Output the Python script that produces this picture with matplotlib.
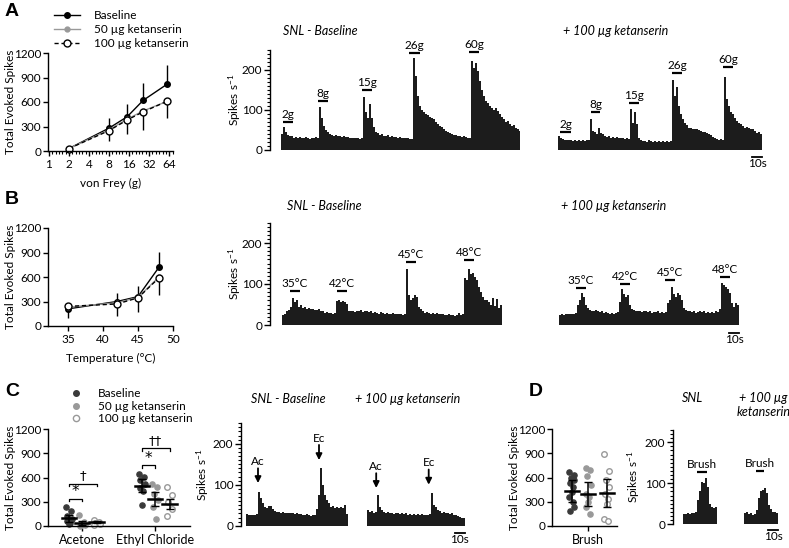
import numpy as np
import matplotlib
matplotlib.use('Agg')
import matplotlib.pyplot as plt
from matplotlib.ticker import FixedLocator, MultipleLocator, NullFormatter
from matplotlib.lines import Line2D

plt.rcParams['font.family'] = ['Lato', 'DejaVu Sans']
plt.rcParams['font.size'] = 8
plt.rcParams['mathtext.fontset'] = 'custom'
plt.rcParams['mathtext.rm'] = 'Lato'
plt.rcParams['mathtext.it'] = 'Lato:italic'
plt.rcParams['axes.linewidth'] = 1.0
plt.rcParams['xtick.major.width'] = 1.0
plt.rcParams['ytick.major.width'] = 1.0
plt.rcParams['xtick.major.size'] = 3.5
plt.rcParams['ytick.major.size'] = 3.5
plt.rcParams['xtick.major.pad'] = 2
plt.rcParams['ytick.major.pad'] = 1.5

# ---------------- data ----------------
# A: von Frey
vf_force = [2, 8, 15, 26, 60]
vf_base = [30, 280, 420, 620, 820]
vf_base_up = [0, 120, 150, 210, 230]
vf_50 = [30, 260, 390, 490, 610]
vf_100 = [30, 250, 380, 480, 610]
vf_100_dn = [0, 130, 170, 225, 205]

# B: heat
temp = [35, 42, 45, 48]
heat_base = [210, 300, 360, 720]
heat_base_up = [0, 100, 130, 190]
heat_base_dn = [110, 0, 0, 0]
heat_50 = [230, 285, 350, 600]
heat_100 = [240, 270, 345, 590]
heat_100_dn = [0, 150, 175, 210]

# C: cold (acetone / ethyl chloride), individual cells
ac_base = [230, 190, 120, 90, 60, 40, 20]
ac_50 = [130, 50, 30, 10, 5]
ac_100 = [70, 55, 40, 25, 15]
ec_base = [640, 610, 570, 520, 470, 430, 260]
ec_50 = [520, 480, 400, 320, 240, 90]
ec_100 = [480, 380, 300, 210, 120]
ac_mean = [95, 35, 50]
ac_sem = [45, 25, 15]
ec_mean = [500, 330, 270]
ec_sem = [85, 85, 60]

# D: brush
br_base = [662, 629, 600, 567, 526, 484, 422, 360, 298, 236, 186]
br_50 = [720, 691, 617, 505, 402, 360, 298, 236, 145]
br_100 = [890, 679, 567, 484, 402, 340, 269, 91, 58]
br_mean = [435, 395, 405]
br_err = [135, 150, 175]

# example traces, spikes/s in 2 s bins
BIN = 2
tr_vf_snl = [40, 57, 46, 38, 35, 34, 31, 33, 30, 32, 31, 29, 32, 30, 28, 31, 29, 33, 30,
             108, 80, 60, 50, 44, 40, 38, 36, 37, 34, 35, 33, 34, 32, 33, 31, 30, 31, 29, 30, 28, 30,
             133, 95, 80, 116, 80, 58, 45, 42, 38, 40, 36, 35, 37, 33, 34, 32, 33, 31, 33, 30, 31, 29, 30, 28, 27,
             229, 185, 135, 110, 100, 94, 90, 88, 82, 80, 77, 70, 64, 60, 58, 52, 48, 45, 43, 40, 38, 37, 36, 35, 33, 34, 32, 31, 30,
             222, 205, 218, 197, 172, 150, 135, 122, 118, 110, 106, 100, 104, 97, 90, 82, 77, 70, 72, 64, 60, 62, 56, 52, 47]
tr_vf_ket = [35, 30, 27, 25, 26, 24, 25, 23, 25, 22, 24, 23, 25, 22, 24, 25,
             78, 47, 45, 40, 56, 42, 39, 35, 33, 36, 31, 33, 30, 32, 29, 31, 30, 28, 31, 27,
             102, 68, 95, 64, 30, 24, 22, 23, 21, 24, 22, 20, 23, 21, 22, 20, 23, 21, 22, 20, 22,
             174, 135, 158, 110, 89, 78, 68, 62, 56, 55, 52, 53, 52, 50, 47, 46, 44, 42, 39, 37, 32, 29, 27, 26, 27, 25,
             183, 127, 110, 95, 89, 80, 72, 68, 64, 60, 56, 58, 55, 52, 53, 48, 43, 44, 39]
tr_heat_snl = [24, 28, 33, 37, 45, 65, 55, 60, 45, 50, 42, 44, 40, 42, 39, 40, 37, 36, 38, 34, 33, 30, 31, 29, 30, 28, 29,
               58, 60, 57, 59, 56, 52, 35, 33, 35, 32, 34, 33, 36, 32, 34, 33, 31, 34, 30, 32, 30, 28, 31, 29, 28, 30, 28, 27, 29, 27, 28, 26, 27, 25,
               26, 136, 73, 61, 65, 73, 68, 45, 38, 33, 30, 32, 29, 28, 30, 27, 29, 28, 26, 27, 25, 24, 26, 25, 24, 23, 24, 30, 25,
               26, 114, 110, 136, 125, 126, 118, 110, 93, 80, 69, 62, 61, 55, 49, 65, 47, 63, 41, 50]
tr_heat_ket = [24, 26, 25, 27, 26, 28, 27, 26, 29, 50, 60, 77, 69, 49, 42, 37, 35, 34, 36, 33, 31, 33, 30, 32, 29, 28, 30, 28, 30, 32,
               55, 87, 75, 69, 72, 50, 40, 37, 35, 33, 34, 32, 35, 33, 31, 34, 30, 32, 31, 33, 30, 31, 29, 32,
               53, 60, 92, 75, 69, 77, 72, 60, 41, 36, 33, 34, 31, 33, 30, 32, 33, 31, 34, 30, 32, 30, 31,
               30, 33, 32, 40, 102, 98, 93, 89, 77, 53, 45, 53, 50]
tr_cold_snl = [28, 26, 27, 25, 26, 28,
               83, 68, 55, 45, 43, 47, 48, 40, 36, 33, 34, 32, 33, 31, 30, 32, 30, 31, 29, 30, 28, 29, 27, 26, 28, 25, 24, 26, 25, 40,
               75, 141, 100, 75, 63, 55, 46, 47, 44, 46, 43, 45, 42, 50, 28]
tr_cold_ket = [38, 33, 36, 31, 34, 75, 46, 38, 34, 31, 33, 30, 32, 29, 31, 30, 28, 31, 29, 30, 27, 29, 26, 28, 27, 29, 26, 28, 25, 27, 26, 28,
               80, 50, 45, 38, 35, 32, 33, 30, 31, 29, 30, 27, 25, 24, 22, 20, 18]
tr_brush_snl = [24, 25, 27, 26, 28, 27, 31, 59, 80, 104, 100, 112, 90, 50, 43, 39, 41]
tr_brush_ket = [27, 31, 25, 28, 23, 26, 35, 63, 80, 84, 88, 76, 47, 38, 31, 29, 27]

# stimulus bars: label, start (s), end (s), height (spikes/s)
st_vf_snl = [('2g', 2, 12, 70), ('8g', 37, 47, 122), ('15g', 81, 91, 150), ('26g', 128, 139, 242), ('60g', 188, 198, 245)]
st_vf_ket = [('2g', 2, 13, 45), ('8g', 33, 42, 94), ('15g', 71, 81, 117), ('26g', 114, 124, 192), ('60g', 165, 175, 207)]
st_heat_snl = [('35°C', 8, 18, 83), ('42°C', 55, 65, 83), ('45°C', 124, 134, 154), ('48°C', 182, 192, 158)]
st_heat_ket = [('35°C', 17, 27, 90), ('42°C', 61, 71, 100), ('45°C', 106, 116, 110), ('48°C', 161, 171, 117)]
st_brush_snl = [('Brush', 14, 24, 128)]
st_brush_ket = [('Brush', 12, 20, 131)]
# arrows for cold: label, time, tip, tail
ar_cold_snl = [('Ac', 12, 104, 140), ('Ec', 73, 160, 197)]
ar_cold_ket = [('Ac', 9.5, 92, 128), ('Ec', 62, 100, 137)]

# ---------------- figure ----------------
W, H = 789, 548
TRACE_C = '#1c1c1c'
GREY = '#999999'
DARK = '#3a3a3a'

fig = plt.figure(figsize=(W / 100, H / 100), dpi=100)


def add_ax(l, t, r, b):
    ax = fig.add_axes([l / W, 1 - b / H, (r - l) / W, (b - t) / H])
    ax._px = (l, r)
    return ax


def label_x(ax, x_px):
    # x_px = centre of the rotated label; anchor sits on its right edge
    l, r = ax._px
    ax.yaxis.set_label_coords((x_px + 6 - l) / (r - l), 0.5)


def trace_ax(l, r, start, base, vals, top=250, scale=0.4, yaxis=False, lab_x=None):
    ax = add_ax(l, base - scale * top, r, base)
    ax.set_xlim(l - start, r - start)
    ax.set_ylim(0, top)
    for s in ['top', 'right', 'bottom']:
        ax.spines[s].set_visible(False)
    ax.set_xticks([])
    ax.patch.set_visible(False)
    if yaxis:
        ax.yaxis.set_major_locator(FixedLocator([0, 100, 200]))
        ax.yaxis.set_minor_locator(MultipleLocator(10))
        ax.tick_params(axis='y', which='major', length=4, width=1, labelsize=8.5)
        ax.tick_params(axis='y', which='minor', length=2.5, width=0.8)
        ax.set_ylabel('Spikes s$^{-1}$', fontsize=8.5)
        label_x(ax, lab_x)
    else:
        ax.spines['left'].set_visible(False)
        ax.set_yticks([])
    edges = np.arange(len(vals) + 1) * BIN
    ax.stairs(vals, edges, fill=True, color=TRACE_C, linewidth=0)
    return ax


def stims(ax, items):
    for lab, t0, t1, y in items:
        ax.plot([t0, t1], [y, y], color='k', lw=1.6, solid_capstyle='butt', clip_on=False)
        ax.text((t0 + t1) / 2, y + 5, lab, ha='center', va='bottom', fontsize=8.5, clip_on=False)


def arrows(ax, items):
    for lab, t, tip, tail in items:
        ax.annotate('', xy=(t, tip), xytext=(t, tail),
                    arrowprops=dict(arrowstyle='-|>', color='k', lw=1.3, mutation_scale=9,
                                    shrinkA=0, shrinkB=0), annotation_clip=False)
        ax.text(t, tail + 3, lab, ha='center', va='bottom', fontsize=8.5)


def scalebar(ax, t_end, y):
    ax.plot([t_end - 10, t_end], [y, y], color='k', lw=1.3, clip_on=False)
    ax.text(t_end - 5, y - 3, '10s', ha='center', va='top', fontsize=8.5)


def title(ax, t, y, s, ha='left'):
    ax.text(t, y, s, ha=ha, va='center', fontsize=9, style='italic', clip_on=False)


def panel_letter(x, y, s):
    fig.text(x / W, 1 - y / H, s, fontsize=14, fontweight='bold', family='Liberation Sans',
             ha='left', va='center')


def count_axis(ax, lab_x):
    for s in ['top', 'right']:
        ax.spines[s].set_visible(False)
    ax.patch.set_visible(False)
    ax.set_ylim(0, 1200)
    ax.set_yticks([0, 300, 600, 900, 1200])
    ax.tick_params(labelsize=8.5)
    ax.set_ylabel('Total Evoked Spikes', fontsize=8.5)
    label_x(ax, lab_x)


# ---- Panel A ----
panel_letter(5, 12, 'A')
axA = add_ax(48, 53, 173, 151)
count_axis(axA, 10)
axA.set_xscale('log', base=2)
axA.set_xlim(0.97, 73)
axA.set_xticks([1, 2, 4, 8, 16, 32, 64])
axA.set_xticklabels(['1', '2', '4', '8', '16', '32', '64'])
axA.xaxis.set_minor_locator(FixedLocator(2 ** np.arange(0, 6.2, 1 / 6)))
axA.xaxis.set_minor_formatter(NullFormatter())
axA.tick_params(axis='x', which='minor', length=2, width=0.8)
axA.set_xlabel('von Frey (g)', fontsize=8.5, labelpad=6)
axA.errorbar(vf_force, vf_base, yerr=[np.zeros(5), vf_base_up], fmt='none', ecolor='k', lw=1, capsize=0, clip_on=False)
axA.errorbar(vf_force, vf_100, yerr=[vf_100_dn, np.zeros(5)], fmt='none', ecolor='k', lw=1, capsize=0, clip_on=False)
lb, = axA.plot(vf_force, vf_base, '-o', color='k', lw=1, ms=4, clip_on=False, label='Baseline')
l5, = axA.plot(vf_force, vf_50, '-o', color=GREY, lw=1, ms=3.5, clip_on=False, label='50 µg ketanserin')
l1, = axA.plot(vf_force, vf_100, '--o', color='k', lw=1, ms=5, mfc='white', mec='k', mew=1,
               dashes=(3, 2), clip_on=False, label='100 µg ketanserin')
axA.legend(handles=[lb, l5, l1], loc='upper left', bbox_to_anchor=(48 / W, 1 - 4 / H),
           bbox_transform=fig.transFigure, frameon=False, fontsize=8.5, handlelength=2.2,
           handletextpad=1.2, labelspacing=0.25, borderpad=0)

tA1 = trace_ax(270, 520, 281, 150, tr_vf_snl, yaxis=True, lab_x=237)
stims(tA1, st_vf_snl)
title(tA1, 2, 297, 'SNL - Baseline')
tA2 = trace_ax(558, 762, 558, 150, tr_vf_ket)
stims(tA2, st_vf_ket)
title(tA2, 5, 297, '+ 100 µg ketanserin')
scalebar(tA2, 204, -17)

# ---- Panel B ----
panel_letter(5, 200, 'B')
axB = add_ax(48, 228, 173, 326)
count_axis(axB, 10)
axB.set_xlim(32.14, 50)
axB.set_xticks([35, 40, 45, 50])
axB.set_xlabel('Temperature (°C)', fontsize=8.5, labelpad=6)
axB.errorbar(temp, heat_base, yerr=[heat_base_dn, heat_base_up], fmt='none', ecolor='k', lw=1, capsize=0)
axB.errorbar(temp, heat_100, yerr=[heat_100_dn, np.zeros(4)], fmt='none', ecolor='k', lw=1, capsize=0)
axB.plot(temp, heat_base, '-o', color='k', lw=1, ms=4, clip_on=False)
axB.plot(temp, heat_50, '-o', color=GREY, lw=1, ms=3.5, clip_on=False)
axB.plot(temp, heat_100, '--o', color='k', lw=1, ms=5, mfc='white', mec='k', mew=1, dashes=(3, 2), clip_on=False)

tB1 = trace_ax(270, 502, 282, 325, tr_heat_snl, scale=0.41, yaxis=True, lab_x=237)
stims(tB1, st_heat_snl)
title(tB1, 5, 290, 'SNL - Baseline')
tB2 = trace_ax(559, 740, 559, 325, tr_heat_ket, scale=0.41)
stims(tB2, st_heat_ket)
title(tB2, 2, 290, '+ 100 µg ketanserin')
scalebar(tB2, 180, -19)

# ---- Panel C ----
panel_letter(5, 392, 'C')
axC = add_ax(48, 429, 190, 526)
count_axis(axC, 10)
axC.set_xlim(0.534, 2.48)
axC.set_xticks([1, 2])
axC.set_xticklabels(['Acetone', 'Ethyl Chloride'], fontsize=9)
off = [-0.18, 0.0, 0.2]
jit = [-0.04, 0.03, -0.02, 0.04, -0.03, 0.02, 0.0]
groups = [(1, [ac_base, ac_50, ac_100], ac_mean, ac_sem), (2, [ec_base, ec_50, ec_100], ec_mean, ec_sem)]
for cx, sets, means, sems in groups:
    for k, vals in enumerate(sets):
        xs = [cx + off[k] + jit[i % len(jit)] for i in range(len(vals))]
        if k == 0:
            axC.scatter(xs, vals, s=14, color=DARK, zorder=2, clip_on=False)
        elif k == 1:
            axC.scatter(xs, vals, s=14, color=GREY, zorder=2, clip_on=False)
        else:
            axC.scatter(xs, vals, s=16, facecolor='white', edgecolor=GREY, lw=1, zorder=2, clip_on=False)
        x0 = cx + off[k]
        axC.plot([x0 - 0.1, x0 + 0.1], [means[k]] * 2, color='k', lw=1.8, zorder=3)
        axC.errorbar([x0], [means[k]], yerr=[sems[k]], fmt='none', ecolor='k', lw=1.1, capsize=3, zorder=3)


def bracket(ax, x0, x1, y, s, tick=35):
    ax.plot([x0, x0, x1, x1], [y - tick, y, y, y - tick], color='k', lw=0.9)
    if s == '*':
        ax.text((x0 + x1) / 2, y - 10, s, ha='center', va='bottom', fontsize=11, family='DejaVu Sans')
    else:
        ax.text((x0 + x1) / 2, y + 15, s, ha='center', va='bottom', fontsize=9.5, family='DejaVu Sans')


bracket(axC, 1 + off[0], 1 + off[1], 340, '*')
bracket(axC, 1 + off[0], 1 + off[2], 525, '†')
bracket(axC, 2 + off[0], 2 + off[1], 752, '*')
bracket(axC, 2 + off[0], 2 + off[2], 960, '††')

hC = [Line2D([], [], ls='none', marker='o', ms=4, color=DARK),
      Line2D([], [], ls='none', marker='o', ms=4, color=GREY),
      Line2D([], [], ls='none', marker='o', ms=4.5, mfc='white', mec=GREY)]
axC.legend(hC, ['Baseline', '50 µg ketanserin', '100 µg ketanserin'], loc='upper left',
           bbox_to_anchor=(64 / W, 1 - 382 / H), bbox_transform=fig.transFigure, frameon=False,
           fontsize=8.5, handlelength=1.0, handletextpad=1.4, labelspacing=0.15, borderpad=0)

tC1 = trace_ax(241, 348, 246, 525.7, tr_cold_snl, scale=0.41, yaxis=True, lab_x=205)
arrows(tC1, ar_cold_snl)
title(tC1, 5, 310, 'SNL - Baseline')
tC2 = trace_ax(366.7, 465, 366.7, 525.7, tr_cold_ket, scale=0.41)
arrows(tC2, ar_cold_ket)
title(tC2, -12, 310, '+ 100 µg ketanserin')
scalebar(tC2, 98, -18)

# ---- Panel D ----
panel_letter(529, 392, 'D')
axD = add_ax(552, 429, 617, 526)
count_axis(axD, 514)
axD.set_xlim(-0.72, 0.58)
axD.set_xticks([0])
axD.set_xticklabels(['Brush'], fontsize=9)
offD = [-0.33, 0.0, 0.37]
jitD = [-0.05, 0.04, -0.02, 0.05, -0.04, 0.02, 0.0, -0.05, 0.03, 0.05, -0.03]
for k, vals in enumerate([br_base, br_50, br_100]):
    xs = [offD[k] + jitD[i % len(jitD)] for i in range(len(vals))]
    if k == 0:
        axD.scatter(xs, vals, s=14, color=DARK, zorder=2, clip_on=False)
    elif k == 1:
        axD.scatter(xs, vals, s=14, color=GREY, zorder=2, clip_on=False)
    else:
        axD.scatter(xs, vals, s=16, facecolor='white', edgecolor=GREY, lw=1, zorder=2, clip_on=False)
    axD.plot([offD[k] - 0.14, offD[k] + 0.14], [br_mean[k]] * 2, color='k', lw=1.8, zorder=3)
    axD.errorbar([offD[k]], [br_mean[k]], yerr=[br_err[k]], fmt='none', ecolor='k', lw=1.1, capsize=3, zorder=3)

tD1 = trace_ax(673, 718, 683.3, 524.3, tr_brush_snl, top=230, scale=0.41, yaxis=True, lab_x=636)
stims(tD1, st_brush_snl)
title(tD1, 9, 308, 'SNL', ha='center')
tD2 = trace_ax(744.3, 778, 744.3, 524.3, tr_brush_ket, top=230, scale=0.41)
stims(tD2, st_brush_ket)
title(tD2, 19, 308, '+ 100 µg', ha='center')
title(tD2, 19, 274, 'ketanserin', ha='center')
scalebar(tD2, 34, -14)

fig.savefig('out.png', dpi=100)
